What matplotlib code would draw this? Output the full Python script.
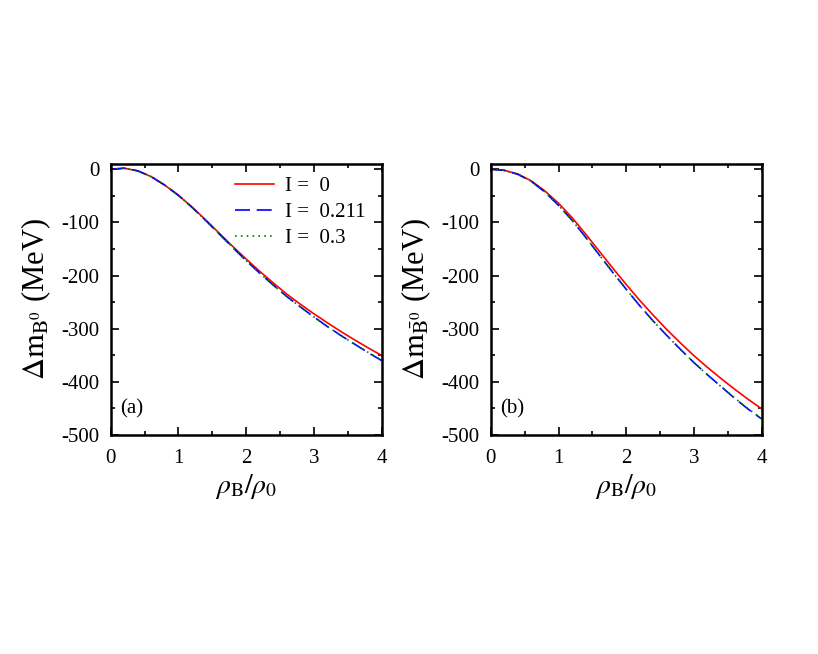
import matplotlib
matplotlib.use("Agg")
import matplotlib.pyplot as plt
from matplotlib.ticker import MultipleLocator

plt.rcParams['font.family'] = ['Liberation Serif', 'DejaVu Serif']
plt.rcParams['mathtext.fontset'] = 'stix'
plt.rcParams['axes.unicode_minus'] = False

# density rho_B / rho_0
x = [0, 0.2, 0.4, 0.6, 0.8, 1.0, 1.2, 1.4, 1.6, 1.8, 2.0,
     2.2, 2.4, 2.6, 2.8, 3.0, 3.2, 3.4, 3.6, 3.8, 4.0]

# (a) B0 mass shift (MeV)
b0_i0 = [0, 2, -3, -14, -30, -49, -71, -95, -120, -145, -169,
         -192, -214, -235, -254, -272, -289, -305.5, -321, -336, -350.5]
b0_i211 = [0, 2, -3, -14, -30, -49, -71.5, -96, -121.5, -147, -172,
           -195.5, -218, -239.5, -259, -278, -296, -313, -329, -345, -360]
b0_i3 = [0, 2, -3, -14, -30, -49, -71.5, -96, -121.5, -147, -172,
         -195.5, -218, -239.5, -259, -278, -296, -313, -329, -344.5, -359.5]

# (b) anti-B0 mass shift (MeV)
bb0_i0 = [0, -2, -9, -22, -41, -64, -91, -122, -154, -186, -217,
          -247, -275, -302, -327, -351, -373, -394, -414, -433, -451]
bb0_i211 = [0, -2, -9.5, -23, -43, -68, -96, -128, -161, -194, -226,
            -257, -286, -313, -339, -364, -387, -409, -431, -451.5, -470]
bb0_i3 = [0, -2, -9.5, -23, -43, -68, -96, -128, -161, -194, -226,
          -257, -286, -313, -339, -364, -387, -409, -430.5, -451, -469.5]

labels = ['I =  0', 'I =  0.211', 'I =  0.3']

fig = plt.figure(figsize=(8.18, 6.54), dpi=100)
ax1 = fig.add_axes([0.1353, 0.3349, 0.3313, 0.4144])
ax2 = fig.add_axes([0.6000, 0.3349, 0.3313, 0.4144])

panels = [(ax1, [b0_i0, b0_i211, b0_i3], r'$\Delta\mathrm{m}_{\mathrm{B}^0}$ (MeV)', '(a)'),
          (ax2, [bb0_i0, bb0_i211, bb0_i3], r'$\Delta\mathrm{m}_{\bar{\mathrm{B}}^0}$ (MeV)', '(b)')]

for ax, ys, ylab, tag in panels:
    ax.plot(x, ys[0], color='red', lw=1.2, label=labels[0])
    ax.plot(x, ys[1], color='blue', lw=1.2, dashes=(9, 4), label=labels[1])
    ax.plot(x, ys[2], color='green', lw=1.2, ls=(0, (1, 2.5)), label=labels[2])
    ax.set_xlim(0, 4)
    ax.set_ylim(-500, 10)
    ax.xaxis.set_major_locator(MultipleLocator(1))
    ax.xaxis.set_minor_locator(MultipleLocator(0.5))
    ax.yaxis.set_major_locator(MultipleLocator(100))
    ax.yaxis.set_minor_locator(MultipleLocator(50))
    ax.tick_params(which='both', direction='in', top=True, right=True,
                   labelsize=15, width=1.2)
    ax.tick_params(which='major', length=6)
    ax.tick_params(which='minor', length=3)
    ax.tick_params(axis='x', which='major', pad=10)
    ax.tick_params(axis='y', which='major', pad=8)
    for s in ax.spines.values():
        s.set_linewidth(1.8)
    ax.set_xlabel(r'$\rho_{\mathrm{B}}/\rho_0$', fontsize=20, labelpad=3)
    ax.set_ylabel(ylab, fontsize=22, labelpad=6)
    ax.text(0.035, 0.08, tag, transform=ax.transAxes, fontsize=15)

ax1.legend(loc='upper right', frameon=False, fontsize=15, handlelength=1.9,
           handletextpad=0.5, labelspacing=0.32, borderaxespad=0.0,
           bbox_to_anchor=(0.97, 0.985))

fig.savefig('out.png', dpi=100)
